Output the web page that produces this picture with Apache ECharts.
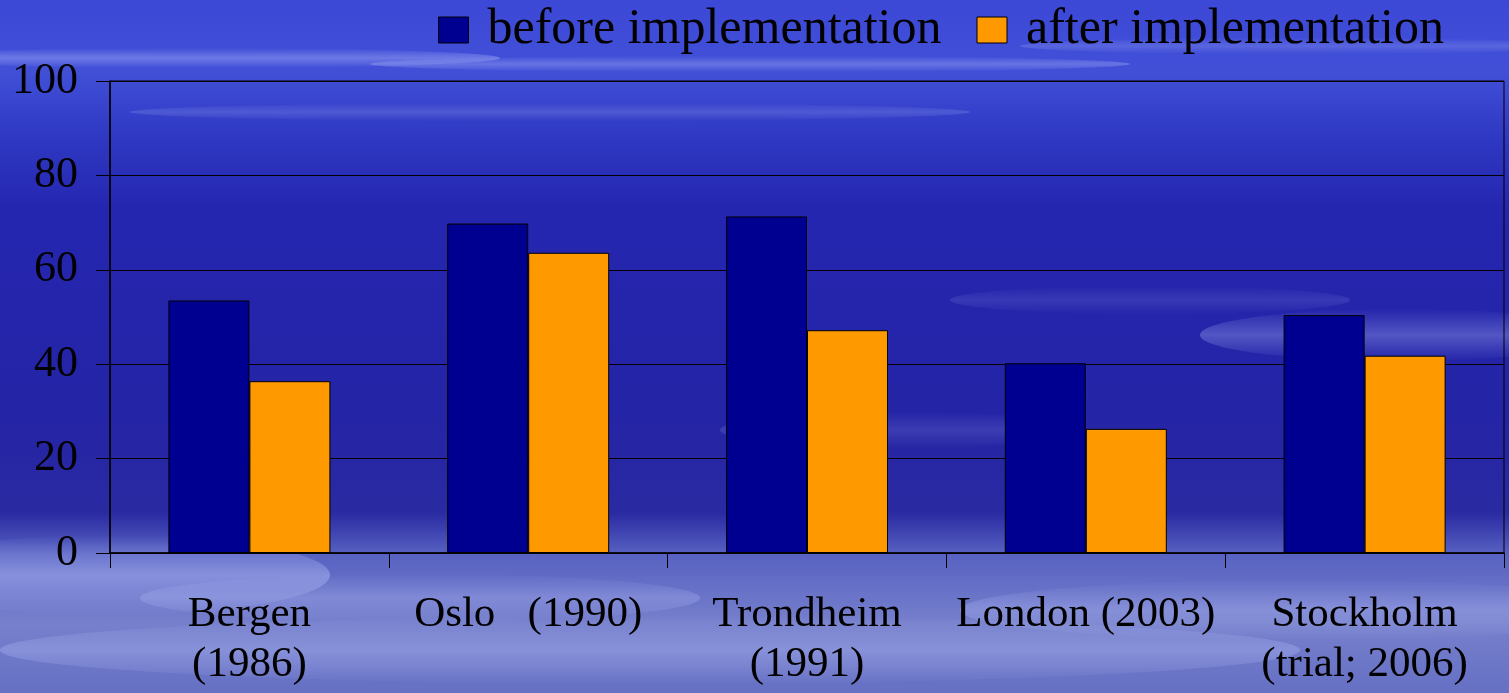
<!DOCTYPE html>
<html>
<head>
<meta charset="utf-8">
<script src="https://cdn.jsdelivr.net/npm/echarts@6/dist/echarts.min.js"></script>
<style>
  html, body { margin: 0; padding: 0; }
  #chart { width: 1509px; height: 693px; }
</style>
</head>
<body>
<div id="chart"></div>
<script>
const cities = [
  "Bergen\n(1986)",
  "Oslo   (1990)",
  "Trondheim\n(1991)",
  "London (2003)",
  "Stockholm\n(trial; 2006)",
];
const beforeValues = [53.5, 69.8, 71.3, 40.2, 50.4];
const afterValues = [36.4, 63.6, 47.2, 26.3, 41.8];
const seriesNames = ["before implementation", "after implementation"];

const font = "'Liberation Serif', 'Times New Roman', serif";

// soft cloud streaks over the blue backdrop: cx, cy, rx, ry, alpha
const clouds = [
  [200, 58, 300, 10, 0.35],
  [750, 64, 380, 8, 0.3],
  [1300, 46, 280, 8, 0.2],
  [550, 112, 420, 9, 0.18],
  [1400, 335, 200, 26, 0.3],
  [900, 430, 180, 18, 0.15],
  [1150, 300, 200, 14, 0.12],
  [110, 575, 220, 40, 0.4],
  [650, 650, 650, 34, 0.3],
  [1300, 610, 340, 30, 0.28],
  [420, 598, 280, 24, 0.25],
];

const chart = echarts.init(document.getElementById("chart"));

function cloudFill(a) {
  return {
    type: "linear",
    x: 0, y: 0, x2: 0, y2: 1,
    colorStops: [
      { offset: 0, color: "rgba(190,200,255,0)" },
      { offset: 0.5, color: "rgba(190,200,255," + a + ")" },
      { offset: 1, color: "rgba(190,200,255,0)" },
    ],
  };
}

const option = {
  backgroundColor: {
    type: "linear",
    x: 0, y: 0, x2: 0, y2: 1,
    colorStops: [
      { offset: 0, color: "#3c48d6" },
      { offset: 0.1, color: "#4250d8" },
      { offset: 0.2, color: "#2e38c2" },
      { offset: 0.3, color: "#2526b0" },
      { offset: 0.6, color: "#2424a6" },
      { offset: 0.74, color: "#2a2aa2" },
      { offset: 0.8, color: "#5862c2" },
      { offset: 0.9, color: "#7680cc" },
      { offset: 1, color: "#6670c4" },
    ],
  },
  graphic: clouds.map((c) => ({
    type: "ellipse",
    z: -10,
    silent: true,
    shape: { cx: c[0], cy: c[1], rx: c[2], ry: c[3] },
    style: { fill: cloudFill(c[4]) },
  })),
  legend: {
    data: seriesNames,
    left: 433,
    top: 0,
    itemWidth: 30,
    itemHeight: 26,
    itemGap: 35,
    icon: "rect",
    itemStyle: { borderColor: "#000", borderWidth: 1 },
    textStyle: {
      fontFamily: font,
      fontSize: 50,
      color: "#000",
      padding: [0, 0, 0, 14],
    },
  },
  grid: {
    left: 110,
    right: 5,
    top: 81,
    bottom: 140,
    show: true,
    borderColor: "#000",
    borderWidth: 1,
    backgroundColor: "transparent",
  },
  xAxis: {
    type: "category",
    data: cities,
    axisLine: { lineStyle: { color: "#000", width: 1.5 } },
    axisTick: { show: true, length: 15, lineStyle: { color: "#000" } },
    axisLabel: {
      fontFamily: font,
      fontSize: 43,
      lineHeight: 50,
      color: "#000",
      margin: 37,
      interval: 0,
    },
  },
  yAxis: {
    type: "value",
    min: 0,
    max: 100,
    interval: 20,
    axisLine: { show: true, lineStyle: { color: "#000", width: 1.5 } },
    axisTick: { show: true, length: 14, lineStyle: { color: "#000" } },
    splitLine: { lineStyle: { color: "#000", width: 1.2 } },
    axisLabel: {
      fontFamily: font,
      fontSize: 44,
      color: "#000",
      margin: 32,
    },
  },
  series: [
    {
      name: seriesNames[0],
      type: "bar",
      data: beforeValues,
      barWidth: 81,
      barGap: "0%",
      itemStyle: { color: "#000090", borderColor: "#000", borderWidth: 1 },
    },
    {
      name: seriesNames[1],
      type: "bar",
      data: afterValues,
      barWidth: 81,
      barGap: "0%",
      itemStyle: { color: "#ff9900", borderColor: "#000", borderWidth: 1 },
    },
  ],
};

chart.setOption(option);
</script>
</body>
</html>
